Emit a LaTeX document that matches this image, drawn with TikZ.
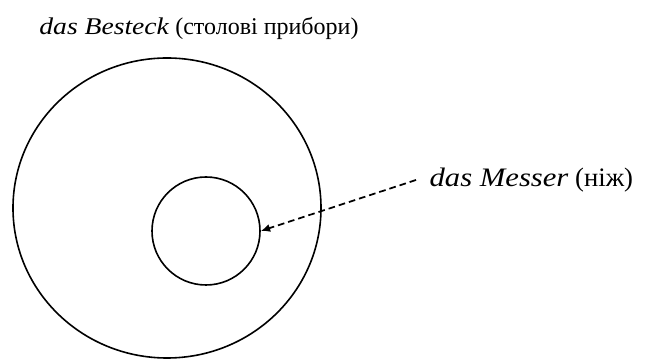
\documentclass[tikz,border=0pt]{standalone}
\usepackage{fontspec}
\setmainfont{Liberation Serif}[ItalicFeatures={FakeStretch=1.15}]
\usetikzlibrary{arrows.meta, positioning, shapes.geometric}

\begin{document}
\begin{tikzpicture}[
  x=0.75pt, y=0.75pt,
  set/.style={draw, ellipse, line width=1.2pt, inner sep=0pt},
  label/.style={font=\fontsize{18}{22}\selectfont, inner sep=1pt},
  arrow/.style={-{Latex[length=7pt, width=6pt]}, line width=1.3pt, dash pattern=on 5pt off 3pt}
]
\useasboundingbox (0,0) rectangle (651,360);
\node[set, minimum width=231pt, minimum height=225pt] (besteck) at (167,152) {};
\node[set, minimum width=81pt, minimum height=81pt] (messer) at (206,129) {};
\node[label] (besteckname) at (199,332) {\textit{das Besteck} (столові прибори)};
\node[label, font=\fontsize{20}{24}\selectfont, anchor=west, inner xsep=10pt] (messername) at (416,180) {\textit{das Messer} (ніж)};
\draw[arrow] (messername.west) -- (messer.east);
\end{tikzpicture}
\end{document}
